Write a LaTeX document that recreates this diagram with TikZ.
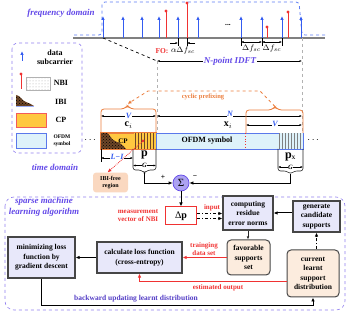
\documentclass[tikz,border=0pt]{standalone}
\usepackage{fontspec}
\setmainfont{Liberation Serif}
\usepackage{amsmath}
\usetikzlibrary{arrows.meta, positioning, patterns, calc}
\definecolor{vio}{RGB}{98,72,232}
\definecolor{sblue}{RGB}{52,92,240}
\definecolor{nbired}{RGB}{240,50,50}
\definecolor{cporange}{RGB}{235,125,60}
\definecolor{cpgold}{RGB}{255,200,64}
\definecolor{ibibrown}{RGB}{110,70,40}
\definecolor{ofdmfill}{RGB}{222,242,250}
\definecolor{ofdmline}{RGB}{90,120,235}
\definecolor{procfill}{RGB}{232,232,250}
\definecolor{peach}{RGB}{252,236,222}
\definecolor{freefill}{RGB}{250,216,192}
\definecolor{sumfill}{RGB}{172,162,242}

\begin{document}
\begin{tikzpicture}[x=1pt, y=-1pt,
  font=\bfseries\fontsize{7.5}{9.5}\selectfont,
  dom/.style={font=\bfseries\itshape\fontsize{9}{10.5}\selectfont, text=vio, align=center},
  sub/.style={sblue, line width=0.9pt, -{Latex[length=4pt, width=3.5pt]}},
  nbi/.style={nbired, line width=0.9pt},
  dim/.style={{Latex[length=2.5pt, width=2pt]}-{Latex[length=2.5pt, width=2pt]}, line width=0.4pt},
  dimtick/.style={line width=0.4pt},
  guide/.style={gray!60, dashed, line width=0.9pt},
  sym/.style={font=\bfseries\itshape\fontsize{8}{9}\selectfont, text=sblue, fill=white, inner sep=0.5pt},
  freq/.style={font=\normalfont\fontsize{8}{9}\selectfont, inner sep=0.5pt},
  legbox/.style={draw=vio!70, dashed, rounded corners=6, line width=0.6pt},
  legtxt/.style={align=center, font=\bfseries\fontsize{8}{9.5}\selectfont},
  cpbox/.style={draw=cporange, fill=cpgold, line width=0.8pt, minimum height=16, inner sep=0pt},
  ofdmbox/.style={draw=ofdmline, fill=ofdmfill, line width=0.8pt, minimum height=16, inner sep=0pt},
  cpbrace/.style={cporange, line width=0.8pt, rounded corners=3},
  gbracket/.style={gray!30!black, line width=0.6pt, rounded corners=2.5},
  procbox/.style={draw=gray!55!black, fill=procfill, line width=1.2pt, align=center, inner sep=1pt},
  softbox/.style={draw=gray!55!black, fill=peach, line width=1pt, rounded corners=4, align=center, inner sep=1pt},
  redlbl/.style={text=nbired, align=center, font=\bfseries\fontsize{7}{8}\selectfont, inner sep=0.5pt},
  arr/.style={-{Latex[length=4pt, width=3.5pt]}, line width=1pt},
  redarr/.style={-{Latex[length=4pt, width=3.5pt]}, line width=1pt, nbired},
  dd/.style={-{Latex[length=4pt, width=3.5pt]}, line width=1pt, dash dot}
]
\useasboundingbox (0,0) rectangle (349,315);

\node[dom] (fdom) at (61,13) {frequency domain};
\draw[sblue!80, dashed, line width=0.8pt, rounded corners=3] (74,35) -- (102,35) -- (102,2) -- (299,2) -- (302,35) -- (325,35);
\draw[gray, line width=1.2pt] (73,38) -- (325,38);
\draw[sub] (103,38) -- (103,16);
\draw[sub] (123,38) -- (123,16);
\draw[sub] (142,38) -- (142,16);
\draw[sub] (159,38) -- (159,16);
\draw[sub] (178,38) -- (178,16);
\draw[sub] (198,38) -- (198,16);
\draw[sub] (241,38) -- (241,16);
\draw[sub] (262,38) -- (262,16);
\draw[sub] (282,38) -- (282,16);
\draw[sub] (301,38) -- (301,16);
\draw[nbi] (166,38) -- (166,11); \fill[nbired] (166,11) circle[radius=1.6];
\draw[nbi] (187,38) -- (187,3); \fill[nbired] (187,3) circle[radius=1.6];
\draw[nbi] (267,38) -- (267,27); \fill[nbired] (267,27) circle[radius=1.6];
\draw[nbi] (288,38) -- (288,12); \fill[nbired] (288,12) circle[radius=1.6];
\node (fdots) at (228,25) {...};

\draw[dimtick] (178,38) -- (178,46);
\draw[dimtick] (187,38) -- (187,46);
\draw[-{Latex[length=2.5pt, width=2pt]}, line width=0.4pt] (170,43) -- (178,43);
\draw[-{Latex[length=2.5pt, width=2pt]}, line width=0.4pt] (195,43) -- (187,43);
\node[text=nbired, font=\bfseries\fontsize{7.5}{8}\selectfont] (fo) at (162,51) {FO:};
\node[freq] (alpha) at (183,51) {$\alpha\Delta f_{sc}$};
\draw[dimtick] (241,38) -- (241,46);
\draw[dimtick] (262,38) -- (262,46);
\draw[dimtick] (282,38) -- (282,46);
\draw[dim] (241,42) -- (262,42);
\draw[dim] (262,42) -- (282,42);
\node[freq] (df1) at (251.5,49) {$\Delta f_{sc}$};
\node[freq] (df2) at (272,49) {$\Delta f_{sc}$};

\draw[black, dashed, line width=0.7pt] (103,38) -- (157,61);
\draw[guide] (157,61) -- (157,133);
\draw[guide] (302,38) -- (302,133);
\draw[dim, line width=0.6pt] (157,61) -- (302,61);
\node[dom, fill=white, inner sep=1pt] (idft) at (230,61) {\textit{N}-point IDFT};

\draw[legbox] (12,43) rectangle (82,153);
\draw[sub] (22,61) -- (22,51);
\node[legtxt] (legsub) at (55,57.5) {data\\subcarrier};
\draw[nbi] (21,89) -- (21,74); \fill[nbired] (21,74) circle[radius=1.6];
\node[draw=gray!60, pattern=dots, pattern color=gray!70, minimum width=24, minimum height=13, inner sep=0pt] (legnbi) at (38,83.5) {};
\node[legtxt] (nbitxt) at (61,83) {NBI};
\path[fill=ibibrown, postaction={pattern=crosshatch dots, pattern color=black}] (16,106) -- (16,95) .. controls (20,95) and (22,101) .. (26,102) .. controls (29,103) and (31,104) .. (34,106) -- cycle;
\draw[sblue!50, line width=0.6pt] (16,106) -- (34,106);
\node[legtxt] (ibitxt) at (61,102) {IBI};
\node[cpbox, draw=nbired!80, minimum width=30, minimum height=14] (legcp) at (31,120) {};
\node[legtxt] (cptxt) at (61,120) {CP};
\node[ofdmbox, minimum width=30, minimum height=15] (legofdm) at (31,140.5) {};
\node[align=center, font=\bfseries\fontsize{5.5}{7}\selectfont] (ofdmtxt) at (62,141) {OFDM\\symbol};
\node[dom] (tdom) at (55,167) {time domain};

\node[font=\fontsize{10}{10}\selectfont] (ldots) at (91,140) {$\cdots$};
\node[cpbox, minimum width=55] (cpblk) at (128.5,141) {};
\node[fill=cpgold, postaction={pattern=vertical lines, pattern color=ibibrown}, minimum width=22, minimum height=15, inner sep=0pt] (pfree) at (144.5,141) {};
\path[fill=ibibrown, postaction={pattern=crosshatch dots, pattern color=black}] (101,133) -- (107,133) .. controls (111,135) and (110,139) .. (115,141) .. controls (120,143) and (123,145) .. (126,149) -- (101,149) -- cycle;
\draw[cporange, line width=0.8pt] (cpblk.south west) rectangle (cpblk.north east);
\node[font=\bfseries\fontsize{7}{8}\selectfont] (cptag) at (123,141) {CP};
\coordinate (nbidot) at (143,141);
\fill[nbired] (nbidot) circle[radius=1.5];
\node[ofdmbox, minimum width=147] (ofdm) at (229.5,141) {};
\node[fill=ofdmfill, postaction={pattern=vertical lines, pattern color=gray}, minimum width=24, minimum height=15, inner sep=0pt] (pxstr) at (290.5,141) {};
\node[font=\bfseries\fontsize{8}{9}\selectfont] (ofdmlbl) at (207,141) {OFDM symbol};
\draw[nbired, dotted, line width=0.8pt] (245,133) -- (245,149);
\node[font=\fontsize{10}{10}\selectfont] (rdots) at (314,140) {$\cdots$};

\draw[cpbrace] (101,133) |- (124,109) -- (127.5,105.5) -- (131,109) -| (156,133);
\draw[dim] (101,116) -- (156,116);
\node[sym] (vlen) at (128.5,116) {V};
\node[font=\bfseries\fontsize{10}{10}\selectfont] (ci) at (128.5,125) {c$_i$};
\draw[dim] (157,116) -- (302,116);
\node[sym] (nlen) at (230,114) {N};
\node[font=\bfseries\fontsize{10}{10}\selectfont] (xi) at (228,125) {x$_i$};
\draw[cpbrace] (246,133) |- (271.5,110) -- (275,106.5) -- (278.5,110) -| (303,133);
\draw[dim] (246,125) -- (302,125);
\node[sym] (vlen2) at (275,124) {V};
\coordinate (cpsrc) at (275,106.5);
\coordinate (cptip) at (127.5,104);
\draw[cporange, dashed, line width=0.8pt, -{Latex[length=4pt, width=3.5pt]}] (cpsrc) -- (260,91) -- (148,91) -- (cptip);
\node[text=cporange, font=\bfseries\fontsize{6.5}{7}\selectfont] (cpfix) at (203,97) {cyclic prefixing};

\draw[dimtick] (101,149) -- (101,162);
\draw[dim] (101,158) -- (133,158);
\node[sym] (lmi) at (117,157) {L−I};
\draw[gbracket] (133,149) |- (141,170) -- (144.5,173) -- (148,170) -| (156,149);
\node[font=\bfseries\fontsize{12}{12}\selectfont] (pvec) at (144.5,155) {p};
\draw[dim] (133,165.5) -- (156,165.5);
\node[sym, font=\bfseries\itshape\fontsize{6.5}{7}\selectfont, text=black] (glen) at (144.5,165.5) {G};
\coordinate (ptip) at (144.5,173);
\draw[gbracket] (278,149) |- (286.5,171) -- (290.5,174) -- (294.5,171) -| (303,149);
\node (pxvec) at (290.5,157) {{\fontsize{12}{12}\selectfont p}\textsubscript{X}};
\draw[dim] (278,167) -- (303,167);
\node[sym, font=\bfseries\itshape\fontsize{6.5}{7}\selectfont, text=black] (glen2) at (290.5,167) {G};
\coordinate (pxtip) at (290.5,174);

\node[circle, draw=vio, fill=sumfill, minimum size=16, inner sep=0pt, line width=0.7pt, font=\normalfont\fontsize{11}{11}\selectfont] (sum) at (181,183) {Σ};
\draw[arr, line width=0.7pt] (ptip) |- (sum);
\draw[arr, line width=0.7pt] (pxtip) |- (sum);
\node (plus) at (163,177) {+};
\node (minus) at (195,177) {−};
\node[fill=freefill, rounded corners=3, minimum width=35, minimum height=19, align=center, font=\bfseries\fontsize{6}{7.5}\selectfont] (ibifree) at (110.5,182.5) {IBI-free\\region};
\draw[nbired, densely dotted, line width=0.8pt, -{Latex[length=4pt, width=3.5pt]}] (nbidot) -- ([xshift=-3pt]ibifree.north);

\draw[legbox, rounded corners=9] (5,197) rectangle (345,310);
\node[dom] (sml) at (44,207) {sparse machine\\learning algorithm};
\node[draw=nbired, fill=white, line width=1pt, minimum width=31, minimum height=18, font=\fontsize{10}{10}\selectfont] (dp) at (181,216) {Δ\textbf{p}};
\node[redlbl] (meas) at (138,216) {measurement\\vector of NBI};
\node[procbox, minimum width=50, minimum height=34] (resid) at (248,213) {computing\\residue\\error norms};
\node[procbox, minimum width=47, minimum height=31] (gen) at (316.5,216.5) {generate\\candidate\\supports};
\node[softbox, minimum width=43, minimum height=35] (fav) at (248.5,257.5) {favorable\\supports\\set};
\node[softbox, minimum width=52, minimum height=47] (cur) at (313,273.5) {current\\learnt\\support\\distribution};
\node[procbox, minimum width=85, minimum height=31] (loss) at (139.5,257.5) {calculate loss function\\(cross-entropy)};
\node[procbox, minimum width=67, minimum height=41] (minim) at (41.5,257.5) {minimizing loss\\function by\\gradient descent};
\coordinate (back) at (313,305);

\draw[arr] (sum) -- (dp);
\draw[dd] ([yshift=2.5]dp.east) -- ([yshift=2.5]dp.east -| resid.west);
\draw[dd] ([yshift=-2.5]dp.east) -- ([yshift=-2.5]dp.east -| resid.west);
\node[redlbl] (inp) at (212,208) {input};
\draw[arr] (gen.west |- resid.east) -- (resid.east);
\draw[-{Latex[length=3pt, width=2.5pt]}, line width=0.6pt, gray!30!black] (resid.south) -- (resid.south |- fav.north);
\draw[redarr] (fav.west) -- (fav.west -| loss.east);
\node[redlbl] (train) at (204,249) {trainging\\data set};
\draw[dd] (gen.south |- cur.north) -- (gen.south);
\draw[redarr] ([yshift=-8.5]cur.west) -| (loss.south);
\node[redlbl] (est) at (218,288) {estimated output};
\draw[arr] (loss.west) -- (minim.east);
\draw[arr, line width=0.8pt] (minim.south) |- (back) -- (cur.south);
\node[text=vio!85!black] (bwd) at (136,299) {backward updating learnt distribution};
\end{tikzpicture}
\end{document}
